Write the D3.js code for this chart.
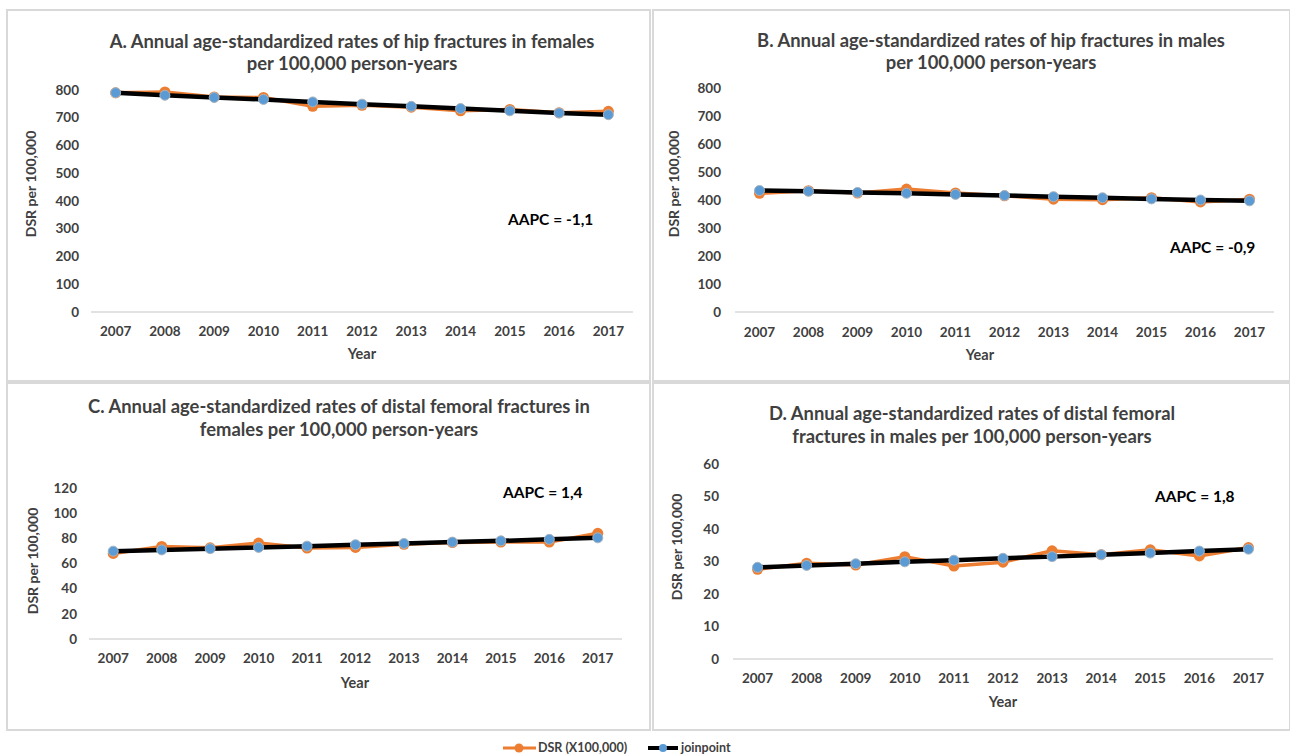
<!DOCTYPE html>
<html><head><meta charset="utf-8">
<script src="https://cdn.jsdelivr.net/npm/d3@7"></script>
<style>body{margin:0;background:#fff}svg{display:block}text{font-family:Lato,"Open Sans",sans-serif}</style>
</head><body>
<svg id="c" width="1290" height="756"></svg>
<script>
const years = ["2007","2008","2009","2010","2011","2012","2013","2014","2015","2016","2017"];

const dsrA = [790, 793, 775, 773, 741, 745, 738, 725, 730, 718, 723];
const jpA  = [790, 781, 773, 766, 757, 749, 741, 733, 725, 717, 711];
const dsrB = [424, 433, 425, 439, 425, 415, 403, 401, 408, 393, 403];
const jpB  = [434, 431, 427, 424, 420, 416, 412, 408, 404, 400, 397];
const dsrC = [68, 73.5, 72.5, 76.2, 72.3, 72.8, 75.2, 76.6, 77, 77, 84];
const jpC  = [69.8, 70.8, 71.8, 72.8, 73.8, 74.9, 75.9, 77, 78, 79.2, 80.4];
const dsrD = [27.6, 29.5, 28.9, 31.5, 28.6, 29.8, 33.3, 32.1, 33.6, 31.7, 34.3];
const jpD  = [28.2, 28.8, 29.3, 29.9, 30.4, 31.0, 31.5, 32.1, 32.6, 33.2, 33.8];

const yTicksAB = [0,100,200,300,400,500,600,700,800];
const yTicksC = [0,20,40,60,80,100,120];
const yTicksD = [0,10,20,30,40,50,60];

const titlesA = ["A. Annual age-standardized rates of hip fractures in females","per 100,000 person-years"];
const titlesB = ["B. Annual  age-standardized rates of hip fractures in males","per 100,000 person-years"];
const titlesC = ["C. Annual age-standardized rates of distal femoral fractures in","females per 100,000 person-years"];
const titlesD = ["D. Annual age-standardized rates of distal femoral","fractures in males per 100,000 person-years"];
const aapcLabels = ["AAPC = -1,1","AAPC = -0,9","AAPC = 1,4","AAPC = 1,8"];
const yTitle = "DSR per 100,000";
const xTitle = "Year";
const legendLabels = ["DSR (X100,000)","joinpoint"];

const panels = [
 {dsr:dsrA, jp:jpA, ticks:yTicksAB, max:800, titles:titlesA, aapc:aapcLabels[0],
  box:[7,10,643,371], x0:91, x1:633, yTop:90, yBot:312, tY:[42,64], tX:352,
  yLabX:31, yLabY:184, xTickY:331, xLabX:362, xLabY:354, aX:508, aY:220, tickR:79},
 {dsr:dsrB, jp:jpB, ticks:yTicksAB, max:800, titles:titlesB, aapc:aapcLabels[1],
  box:[653,10,637,371], x0:735, x1:1274, yTop:88, yBot:312, tY:[41,63], tX:991,
  yLabX:674, yLabY:184, xTickY:332, xLabX:980, xLabY:355, aX:1170, aY:248, tickR:721},
 {dsr:dsrC, jp:jpC, ticks:yTicksC, max:120, titles:titlesC, aapc:aapcLabels[2],
  box:[7,383,643,347], x0:89, x1:622, yTop:488, yBot:639, tY:[407,430], tX:339,
  yLabX:33, yLabY:561, xTickY:658, xLabX:355, xLabY:683, aX:503, aY:493, tickR:77},
 {dsr:dsrD, jp:jpD, ticks:yTicksD, max:60, titles:titlesD, aapc:aapcLabels[3],
  box:[653,383,637,347], x0:733, x1:1273, yTop:464, yBot:659, tY:[414,437], tX:972,
  yLabX:677, yLabY:547, xTickY:678, xLabX:1003, xLabY:702, aX:1155, aY:497, tickR:719}
];

const svg = d3.select("#c");
const ORANGE = "#ED7D31", BLUE = "#5B9BD5", TXT = "#404040";

panels.forEach(p => {
  const g = svg.append("g");
  g.append("rect").attr("x",p.box[0]).attr("y",p.box[1]).attr("width",p.box[2]).attr("height",p.box[3])
   .attr("fill","#fff").attr("stroke","#d9d9d9").attr("stroke-width",2);

  const x = d3.scaleBand().domain(years).range([p.x0,p.x1]);
  const y = d3.scaleLinear().domain([0,p.max]).range([p.yBot,p.yTop]);
  const cx = d => x(d) + x.bandwidth()/2;

  p.titles.forEach((t,i) => g.append("text").attr("x",p.tX).attr("y",p.tY[i]).attr("dy","0.35em")
     .attr("text-anchor","middle").attr("font-size",18.4).attr("font-weight","bold").attr("fill",TXT).text(t));

  p.ticks.forEach(v => g.append("text").attr("x",p.tickR).attr("y",y(v)).attr("dy","0.35em")
     .attr("text-anchor","end").attr("font-size",13.5).attr("font-weight","bold").attr("fill",TXT).text(v));

  g.append("line").attr("x1",p.x0).attr("x2",p.x1).attr("y1",p.yBot).attr("y2",p.yBot)
   .attr("stroke","#d9d9d9").attr("stroke-width",1.5);
  years.forEach(yr => g.append("text").attr("x",cx(yr)).attr("y",p.xTickY).attr("dy","0.35em")
     .attr("text-anchor","middle").attr("font-size",13.5).attr("font-weight","bold").attr("fill",TXT).text(yr));

  g.append("text").attr("transform",`translate(${p.yLabX},${p.yLabY}) rotate(-90)`).attr("dy","0.35em")
   .attr("text-anchor","middle").attr("font-size",14).attr("font-weight","bold").attr("fill",TXT).text(yTitle);
  g.append("text").attr("x",p.xLabX).attr("y",p.xLabY).attr("dy","0.35em")
   .attr("text-anchor","middle").attr("font-size",14.5).attr("font-weight","bold").attr("fill",TXT).text(xTitle);

  const line = d3.line().x((d,i)=>cx(years[i])).y(d=>y(d));
  g.append("path").attr("d",line(p.dsr)).attr("fill","none").attr("stroke",ORANGE).attr("stroke-width",3.5).attr("stroke-linejoin","round");
  g.selectAll(null).data(p.dsr).join("circle").attr("cx",(d,i)=>cx(years[i])).attr("cy",d=>y(d)).attr("r",5.5).attr("fill",ORANGE);
  g.append("path").attr("d",line(p.jp)).attr("fill","none").attr("stroke","#000").attr("stroke-width",4.5).attr("stroke-linejoin","round");
  g.selectAll(null).data(p.jp).join("circle").attr("cx",(d,i)=>cx(years[i])).attr("cy",d=>y(d)).attr("r",5)
   .attr("fill",BLUE).attr("stroke","#a9b4bf").attr("stroke-width",1);

  g.append("text").attr("x",p.aX).attr("y",p.aY).attr("dy","0.35em").attr("font-size",15.5).attr("font-weight","bold")
   .attr("fill","#000").text(p.aapc);
});

const lg = svg.append("g");
lg.append("line").attr("x1",503).attr("x2",536).attr("y1",748).attr("y2",748).attr("stroke",ORANGE).attr("stroke-width",3);
lg.append("circle").attr("cx",519).attr("cy",748).attr("r",4.5).attr("fill",ORANGE);
lg.append("text").attr("x",538).attr("y",748).attr("dy","0.35em").attr("font-size",12.5).attr("font-weight","bold").attr("fill",TXT).text(legendLabels[0]);
lg.append("line").attr("x1",648).attr("x2",678).attr("y1",748).attr("y2",748).attr("stroke","#000").attr("stroke-width",4);
lg.append("circle").attr("cx",663).attr("cy",748).attr("r",4).attr("fill",BLUE);
lg.append("text").attr("x",681).attr("y",748).attr("dy","0.35em").attr("font-size",12.5).attr("font-weight","bold").attr("fill",TXT).text(legendLabels[1]);
</script>
</body></html>
